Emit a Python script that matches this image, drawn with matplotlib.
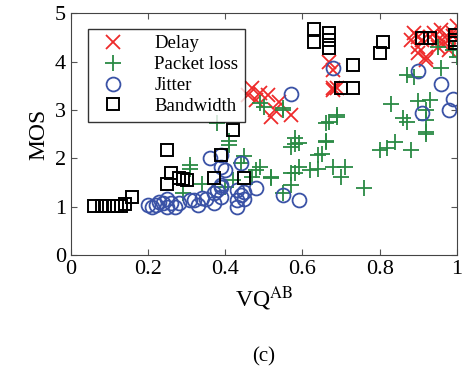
import numpy as np
import matplotlib
matplotlib.use("Agg")
import matplotlib.pyplot as plt

plt.rcParams['font.family'] = ['Liberation Serif', 'DejaVu Serif']
plt.rcParams['mathtext.fontset'] = 'stix'

# data (VQ^AB, MOS)
delay_x = [0.47, 0.46, 0.48, 0.49, 0.51, 0.52, 0.53, 0.54, 0.57, 0.67, 0.68, 0.68, 0.69, 0.68,
           0.89, 0.90, 0.92, 0.90, 0.92, 0.91, 0.93, 0.94, 0.95, 0.96, 0.97, 0.97, 0.98, 0.99,
           1.00, 1.00, 0.88, 0.90, 0.99, 0.95]
delay_y = [3.45, 3.31, 3.21, 3.35, 3.31, 2.86, 3.00, 3.17, 2.90, 4.00, 3.83, 3.45, 3.45, 3.42,
           4.59, 4.31, 4.10, 4.17, 4.04, 4.45, 4.50, 4.59, 4.31, 4.65, 4.38, 4.50, 4.25, 4.52,
           4.73, 4.45, 4.45, 4.50, 4.60, 4.45]

loss_x = [0.38, 0.41, 0.41, 0.45, 0.44, 0.48, 0.49, 0.34, 0.31, 0.31, 0.29, 0.40, 0.42, 0.47,
          0.49, 0.50, 0.55, 0.58, 0.58, 0.59, 0.66, 0.66, 0.64, 0.65, 0.52, 0.52, 0.57, 0.58,
          0.59, 0.62, 0.64, 0.68, 0.71, 0.70, 0.76, 0.55, 0.57, 0.57, 0.66, 0.67, 0.69, 0.69,
          0.80, 0.82, 0.84, 0.88, 0.92, 0.87, 0.83, 0.86, 0.90, 0.93, 0.92, 0.92, 0.92, 0.87,
          0.89, 0.96, 0.99, 0.95, 1.00, 0.55]
loss_y = [2.73, 2.28, 2.35, 2.04, 1.90, 1.76, 1.83, 1.48, 1.86, 1.79, 1.28, 1.41, 1.55, 1.62,
          3.14, 3.07, 3.04, 2.42, 2.30, 2.31, 2.33, 2.35, 2.07, 2.10, 1.61, 1.59, 1.69, 1.69,
          1.83, 1.76, 1.79, 1.83, 1.83, 1.62, 1.38, 1.28, 1.45, 2.24, 2.73, 2.76, 2.86, 2.90,
          2.17, 2.21, 2.33, 2.17, 2.50, 2.76, 3.12, 2.83, 3.19, 3.21, 2.80, 3.00, 2.55, 3.73,
          3.69, 3.87, 4.24, 4.30, 4.10, 3.00]

jitter_x = [0.20, 0.22, 0.23, 0.24, 0.25, 0.26, 0.27, 0.25, 0.21, 0.28, 0.31, 0.32, 0.33, 0.34,
            0.35, 0.37, 0.37, 0.38, 0.39, 0.39, 0.39, 0.36, 0.39, 0.39, 0.40, 0.43, 0.45, 0.44,
            0.43, 0.43, 0.44, 0.45, 0.48, 0.55, 0.59, 0.57, 0.68, 0.90, 0.96, 0.99, 0.98, 0.91]
jitter_y = [1.04, 1.04, 1.10, 1.07, 1.17, 1.07, 1.00, 1.00, 1.00, 1.07, 1.14, 1.14, 1.04, 1.18,
            1.17, 1.07, 1.28, 1.35, 1.41, 1.45, 1.20, 2.00, 2.07, 1.83, 1.76, 1.35, 1.31, 1.90,
            1.00, 1.14, 1.24, 1.17, 1.38, 1.24, 1.14, 3.33, 3.87, 3.80, 3.53, 3.22, 3.00, 2.93]

bw_x = [0.06, 0.08, 0.09, 0.10, 0.11, 0.12, 0.13, 0.14, 0.16, 0.25, 0.26, 0.25, 0.28, 0.30,
        0.29, 0.37, 0.39, 0.45, 0.42, 0.63, 0.63, 0.67, 0.67, 0.67, 0.73, 0.70, 0.73, 0.81,
        0.80, 0.91, 0.93, 0.995, 0.995, 0.995]
bw_y = [1.02, 1.02, 1.02, 1.02, 1.02, 1.02, 1.02, 1.05, 1.20, 2.17, 1.69, 1.48, 1.59, 1.55,
        1.57, 1.59, 2.06, 1.60, 2.59, 4.67, 4.40, 4.59, 4.45, 4.29, 3.92, 3.45, 3.45, 4.40,
        4.18, 4.49, 4.49, 4.55, 4.38, 4.45]

fig = plt.figure(figsize=(4.71, 3.78), dpi=100)
ax = fig.add_axes([0.150, 0.325, 0.820, 0.640])

ax.plot(delay_x, delay_y, 'x', color='#ee2a2a', ms=10, mew=1.3, label='Delay')
ax.plot(loss_x, loss_y, '+', color='#2a8a44', ms=11, mew=1.3, label='Packet loss')
ax.plot(jitter_x, jitter_y, 'o', color='#3a52a6', mfc='none', ms=10, mew=1.3, label='Jitter')
ax.plot(bw_x, bw_y, 's', color='black', mfc='none', ms=9, mew=1.4, label='Bandwidth')

ax.set_xlim(0, 1)
ax.set_ylim(0, 5)
ax.set_xticks([0, 0.2, 0.4, 0.6, 0.8, 1])
ax.set_xticklabels(['0', '0.2', '0.4', '0.6', '0.8', '1'])
ax.set_yticks([0, 1, 2, 3, 4, 5])
ax.tick_params(direction='in', top=True, right=True, labelsize=16, length=4, color='#555555')
for s in ax.spines.values():
    s.set_color('#444444')

ax.set_xlabel(r'VQ$^{\mathrm{AB}}$', fontsize=17)
ax.set_ylabel('MOS', fontsize=17)

leg = ax.legend(loc='upper left', fontsize=13.5, frameon=True, fancybox=False,
                edgecolor='black', borderpad=0.35, labelspacing=0.2, handletextpad=1.2,
                handlelength=2.0, bbox_to_anchor=(0.02, 0.975))
leg.get_frame().set_linewidth(1.0)

fig.text(0.56, 0.045, '(c)', ha='center', fontsize=15)

fig.savefig('out.png', dpi=100)
